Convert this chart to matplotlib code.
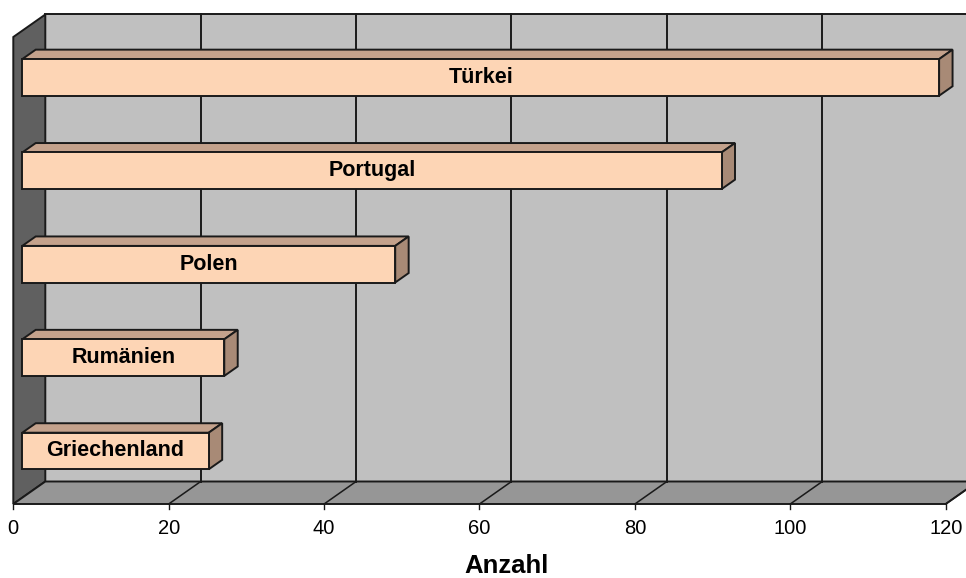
import matplotlib
matplotlib.use("Agg")
import matplotlib.pyplot as plt
from matplotlib.patches import Polygon

# ---- data ----
categories = ["Griechenland", "Rumänien", "Polen", "Portugal", "Türkei"]
values = [24, 26, 48, 90, 118]
xticks = [0, 20, 40, 60, 80, 100, 120]
xlabel = "Anzahl"

# ---- style / geometry ----
plt.rcParams['font.family'] = ['Liberation Sans', 'DejaVu Sans']
W, H = 966, 578
fig = plt.figure(figsize=(W / 100, H / 100), dpi=100)
ax = fig.add_axes([0, 0, 1, 1])
px_x = 7.77          # pixels per value unit
px_y = 93.4          # pixels per category slot
x0_px, y0_px = 13.3, 504.0
ax.set_xlim(-x0_px / px_x, (W - x0_px) / px_x)
ax.set_ylim((y0_px - H) / px_y, y0_px / px_y)
ax.axis("off")

DX = 32 / px_x       # depth offset in x (data units)
DY = 22.5 / px_y     # depth offset in y (data units)
n = len(categories)
xmax = xticks[-1]
edge = "#1a1a1a"
lw = 1.4

def off(x, y, f):
    return (x + DX * f, y + DY * f)

# back wall
ax.add_patch(Polygon([off(0, 0, 1), off(xmax + 10, 0, 1), off(xmax + 10, n, 1), off(0, n, 1)],
                     closed=True, facecolor="#c0c0c0", edgecolor="none", zorder=1))
ax.plot([off(0, n, 1)[0], off(xmax + 10, n, 1)[0]], [off(0, n, 1)[1]] * 2, color=edge, lw=lw, zorder=2)
# left wall
ax.add_patch(Polygon([(0, 0), off(0, 0, 1), off(0, n, 1), (0, n)], closed=True,
                     facecolor="#606060", edgecolor=edge, lw=lw, zorder=2))
# floor
ax.add_patch(Polygon([(0, 0), (xmax, 0), off(xmax, 0, 1), off(0, 0, 1)], closed=True,
                     facecolor="#969696", edgecolor=edge, lw=lw, zorder=2))
# gridlines on back wall and floor
for t in xticks:
    bx, by = off(t, 0, 1)
    if t > 0:
        ax.plot([bx, bx], [by, off(t, n, 1)[1]], color=edge, lw=lw, zorder=2)
        ax.plot([t, bx], [0, by], color=edge, lw=lw * 0.8, zorder=2)
    ax.plot([t, t], [0, -5 / px_y], color=edge, lw=1, zorder=2)
    ax.text(t, -25 / px_y, str(t), ha="center", va="center", fontsize=14.5, color="#000000")

ax.text((W / 2 + 24 - x0_px) / px_x, -62 / px_y, xlabel, ha="center", va="center",
        fontsize=18.5, fontweight="bold", color="#000000")

# bars
f0, f1 = 0.28, 0.70
hh = 0.196
for i, (c, v) in enumerate(zip(categories, values)):
    yc = i + 0.5
    lo, hi = yc - hh, yc + hh
    front = [off(0, lo, f0), off(v, lo, f0), off(v, hi, f0), off(0, hi, f0)]
    top = [off(0, hi, f0), off(v, hi, f0), off(v, hi, f1), off(0, hi, f1)]
    side = [off(v, lo, f0), off(v, lo, f1), off(v, hi, f1), off(v, hi, f0)]
    ax.add_patch(Polygon(top, closed=True, facecolor="#c4a28c", edgecolor=edge, lw=lw, zorder=5))
    ax.add_patch(Polygon(side, closed=True, facecolor="#a88a76", edgecolor=edge, lw=lw, zorder=5))
    ax.add_patch(Polygon(front, closed=True, facecolor="#fdd5b5", edgecolor=edge, lw=lw, zorder=6))
    cx, cy = off(v / 2, yc, f0)
    ax.text(cx, cy, c, ha="center", va="center", fontsize=15.5, fontweight="bold",
            color="#000000", zorder=7)

fig.savefig("out.png", dpi=100)
